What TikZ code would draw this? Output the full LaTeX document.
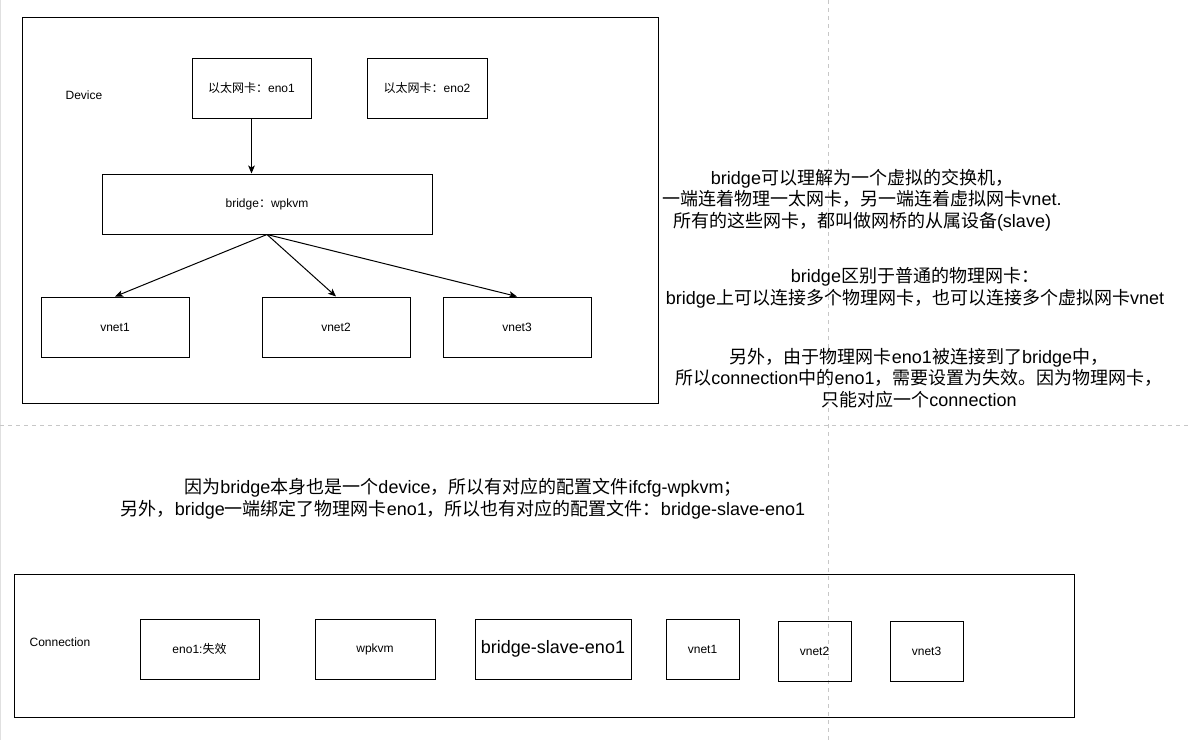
\documentclass[tikz,border=0pt]{standalone}
\usepackage{fontspec}
\setmainfont{Liberation Sans}
\newfontfamily\cjk{Noto Sans CJK SC}
\newcommand{\zh}[1]{{\cjk #1}}
\usetikzlibrary{arrows.meta,positioning}

\begin{document}
\begin{tikzpicture}[
    x=0.75pt, y=-0.75pt,
    frame/.style={rectangle, draw=black, line width=0.75pt, inner sep=0pt},
    box/.style={rectangle, draw=black, line width=0.75pt, inner sep=0pt, minimum height=45pt, align=center, font=\fontsize{9}{10.8}\selectfont},
    tag/.style={inner sep=0pt, font=\fontsize{9}{10.8}\selectfont},
    note/.style={inner sep=0pt, align=center, font=\fontsize{13.5}{16.2}\selectfont},
    guide/.style={draw=black!22, line width=0.75pt, dash pattern=on 3pt off 3pt},
    arrow/.style={-{Stealth[length=6pt, width=5pt, inset=1.5pt]}, line width=0.75pt, draw=black}
]
    \useasboundingbox [fill=white] (0,0) rectangle (1188,740);
    \draw [draw=black!12, line width=0.75pt] (0.5,0) -- (0.5,740);
    \draw [guide] (828,0) -- (828,740);
    \draw [guide] (0,425) -- (1188,425);

    % device side
    \node [frame, minimum width=477pt, minimum height=289.5pt] (device) at (340,210) {};
    \node [tag] (devtag) at (84,95) {Device};
    \node [box, minimum width=89.25pt] (eno1) at (251.5,88) {\zh{以太网卡：}eno1};
    \node [box, minimum width=90pt] (eno2) at (427,88) {\zh{以太网卡：}eno2};
    \node [box, minimum width=247.5pt] (bridge) at (267,204) {bridge\zh{：}wpkvm};
    \node [box, minimum width=111pt] (vnet1) at (115,327) {vnet1};
    \node [box, minimum width=111pt] (vnet2) at (336,327) {vnet2};
    \node [box, minimum width=111pt] (vnet3) at (517,327) {vnet3};

    \draw [arrow] (eno1.south) -- (eno1.south |- bridge.north);
    \draw [arrow] (bridge.south) -- (vnet1.north);
    \draw [arrow] (bridge.south) -- (vnet2.north);
    \draw [arrow] (bridge.south) -- (vnet3.north);

    % notes
    \node [note] (noteA) at (862,200) {bridge\zh{可以理解为一个虚拟的交换机，}\\\zh{一端连着物理一太网卡，另一端连着虚拟网卡}vnet.\\\zh{所有的这些网卡，都叫做网桥的从属设备}(slave)};
    \node [note] (noteB) at (915,288) {bridge\zh{区别于普通的物理网卡：}\\bridge\zh{上可以连接多个物理网卡，也可以连接多个虚拟网卡}vnet};
    \node [note] (noteC) at (919,378) {\zh{另外，由于物理网卡}eno1\zh{被连接到了}bridge\zh{中，}\\\zh{所以}connection\zh{中的}eno1\zh{，需要设置为失效。因为物理网卡，}\\\zh{只能对应一个}connection};
    \node [note] (noteD) at (463,499) {\zh{因为}bridge\zh{本身也是一个}device\zh{，所以有对应的配置文件}ifcfg-wpkvm\zh{；}\\\zh{另外，}bridge\zh{一端绑定了物理网卡}eno1\zh{，所以也有对应的配置文件：}bridge-slave-eno1};

    % connection side
    \node [frame, minimum width=795pt, minimum height=107.25pt] (conn) at (544,646) {};
    \node [tag] (conntag) at (60,642) {Connection};
    \node [box, minimum width=89.25pt] (ceno1) at (199.5,649) {eno1:\zh{失效}};
    \node [box, minimum width=90pt] (cwpkvm) at (375,649) {wpkvm};
    \node [box, minimum width=117pt, font=\fontsize{13.5}{16.2}\selectfont] (cslave) at (553,649) {bridge-slave-eno1};
    \node [box, minimum width=54.75pt] (cvnet1) at (702.5,649) {vnet1};
    \node [box, minimum width=54.75pt] (cvnet2) at (814.5,651) {vnet2};
    \node [box, minimum width=54.75pt] (cvnet3) at (926.5,651) {vnet3};
\end{tikzpicture}
\end{document}
